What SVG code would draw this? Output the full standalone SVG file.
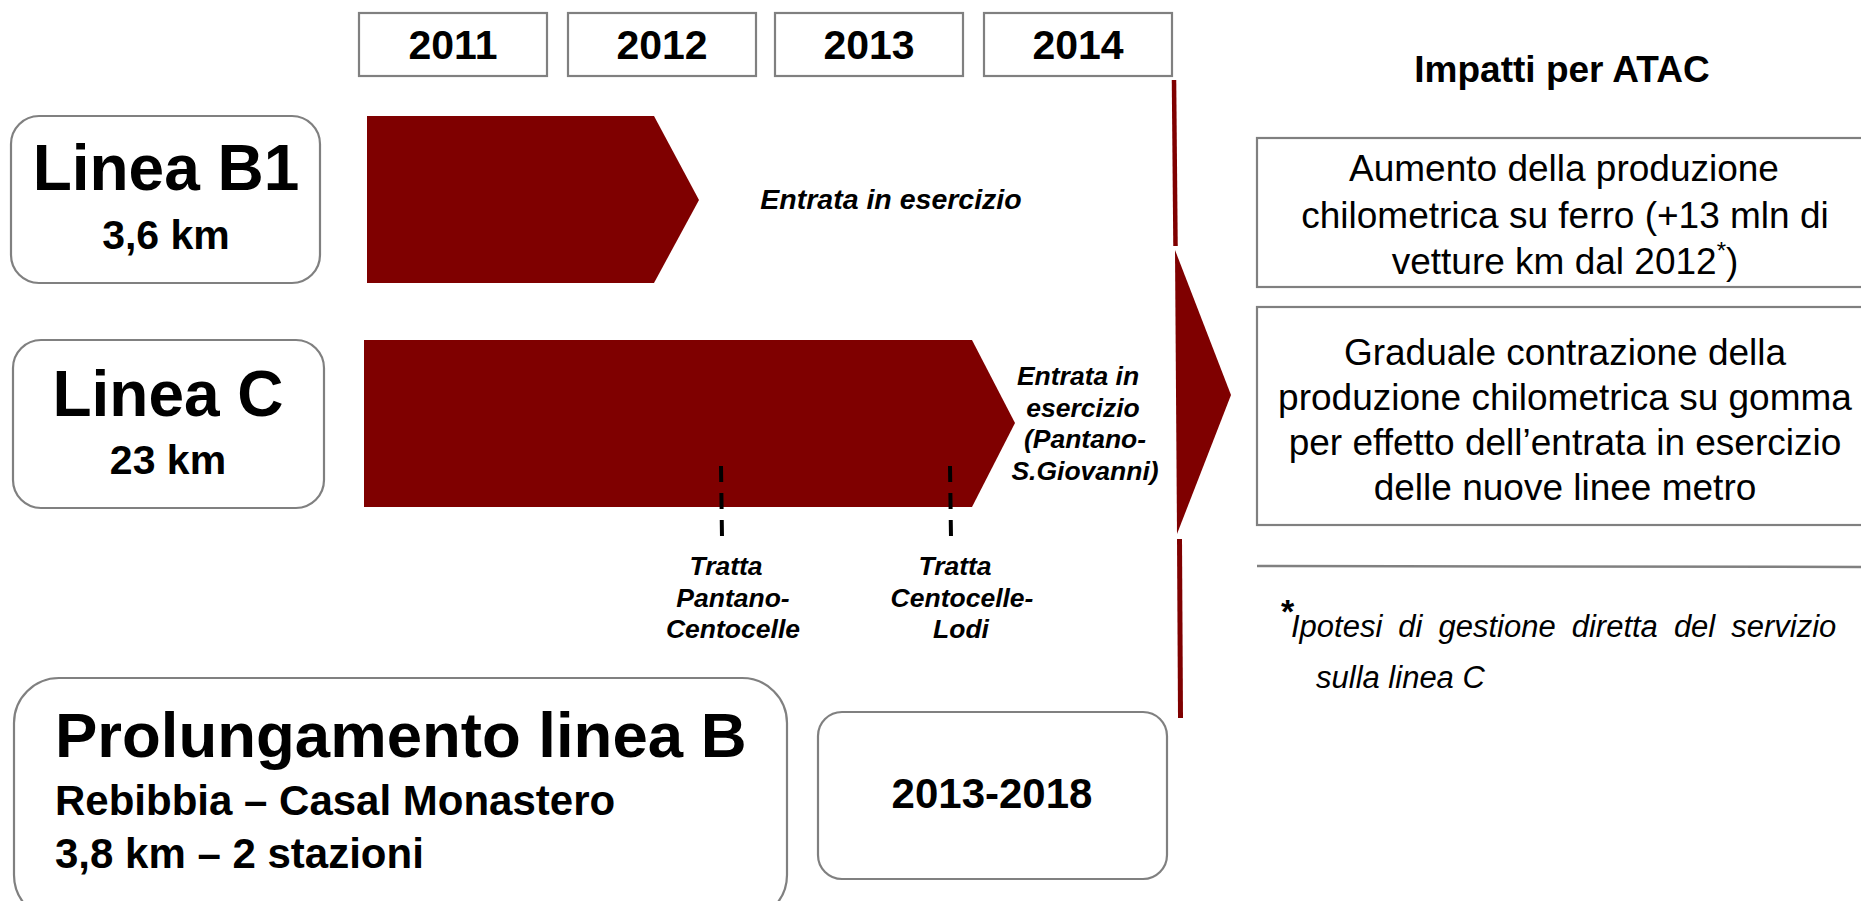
<svg xmlns="http://www.w3.org/2000/svg" width="1861" height="901" viewBox="0 0 1861 901">
<style>
text{font-family:"Liberation Sans",Arial,sans-serif;fill:#000}
.b{font-weight:bold}
.i{font-style:italic}
.c{text-anchor:middle}
.box{fill:#fff;stroke:#808080;stroke-width:2.2}
.red{fill:#7F0000}
.yr{font-size:41px;font-weight:bold;text-anchor:middle}
.lbl{font-size:26.5px;font-weight:bold;font-style:italic;text-anchor:middle}
.imp{font-size:37px;text-anchor:middle}
.tick{stroke:#000;stroke-width:4;stroke-dasharray:16 11;fill:none}
</style>
<rect width="1861" height="901" fill="#fff"/>

<g id="year-2011"><rect class="box" x="359" y="13" width="188" height="63"/><text class="yr" x="453" y="59">2011</text></g>
<g id="year-2012"><rect class="box" x="568" y="13" width="188" height="63"/><text class="yr" x="662" y="59">2012</text></g>
<g id="year-2013"><rect class="box" x="775" y="13" width="188" height="63"/><text class="yr" x="869" y="59">2013</text></g>
<g id="year-2014"><rect class="box" x="984" y="13" width="188" height="63"/><text class="yr" x="1078" y="59">2014</text></g>

<g id="linea-b1">
<rect class="box" x="11" y="116" width="309" height="167" rx="28"/>
<text class="b c" x="166" y="190" font-size="64">Linea B1</text>
<text class="b c" x="166" y="249" font-size="41">3,6 km</text>
</g>
<g id="arrow-b1">
<polygon class="red" points="367,116 654,116 699,200 654,283 367,283"/>
<text class="lbl" x="891" y="209" style="font-size:28.5px">Entrata in esercizio</text>
</g>

<g id="linea-c">
<rect class="box" x="13" y="340" width="311" height="168" rx="28"/>
<text class="b c" x="168" y="416" font-size="64">Linea C</text>
<text class="b c" x="168" y="474" font-size="41">23 km</text>
</g>
<g id="arrow-c">
<polygon class="red" points="364,340 972,340 1015,423 972,507 364,507"/>
<text class="lbl" x="1078" y="385">Entrata in</text>
<text class="lbl" x="1083" y="417">esercizio</text>
<text class="lbl" x="1085" y="448">(Pantano-</text>
<text class="lbl" x="1085" y="480">S.Giovanni)</text>
</g>

<g id="connectors">
<line class="tick" x1="721" y1="466" x2="722" y2="538"/>
<line class="tick" x1="950" y1="466" x2="951" y2="538"/>
<line x1="1174" y1="80" x2="1175.5" y2="246" stroke="#7F0000" stroke-width="4.5"/>
<polygon class="red" points="1175,250 1231,395 1177,534"/>
<line x1="1179.5" y1="539" x2="1180.5" y2="718" stroke="#7F0000" stroke-width="5"/>
</g>

<g id="tratta-1">
<text class="lbl" x="726" y="575">Tratta</text>
<text class="lbl" x="733" y="607">Pantano-</text>
<text class="lbl" x="733" y="638">Centocelle</text>
</g>
<g id="tratta-2">
<text class="lbl" x="955" y="575">Tratta</text>
<text class="lbl" x="962" y="607">Centocelle-</text>
<text class="lbl" x="961" y="638">Lodi</text>
</g>

<g id="prolungamento">
<rect class="box" x="14" y="678" width="773" height="242" rx="45"/>
<text class="b" x="55" y="757" font-size="63.5">Prolungamento linea B</text>
<text class="b" x="55" y="815" font-size="42">Rebibbia – Casal Monastero</text>
<text class="b" x="55" y="868" font-size="42">3,8 km – 2 stazioni</text>
</g>
<g id="periodo">
<rect class="box" x="818" y="712" width="349" height="167" rx="24"/>
<text class="b c" x="992" y="808" font-size="42">2013-2018</text>
</g>

<g id="impatti-title">
<text class="b c" x="1562" y="82" font-size="37">Impatti per ATAC</text>
</g>
<g id="impatto-1">
<rect class="box" x="1257" y="138" width="620" height="149"/>
<text class="imp" x="1564" y="181">Aumento della produzione</text>
<text class="imp" x="1565" y="228">chilometrica su ferro (+13 mln di</text>
<text class="imp" x="1565" y="274">vetture km dal 2012<tspan font-size="24" dy="-15">*</tspan><tspan dy="15">)</tspan></text>
</g>
<g id="impatto-2">
<rect class="box" x="1257" y="307" width="620" height="218"/>
<text class="imp" x="1565" y="365">Graduale contrazione della</text>
<text class="imp" x="1565" y="410">produzione chilometrica su gomma</text>
<text class="imp" x="1565" y="455">per effetto dell’entrata in esercizio</text>
<text class="imp" x="1565" y="500">delle nuove linee metro</text>
</g>
<g id="nota">
<line x1="1257" y1="566" x2="1861" y2="567" stroke="#808080" stroke-width="2.5"/>
<text x="1281" y="623" font-size="34" font-weight="bold">*</text>
<text class="i" x="1291" y="637" font-size="31" word-spacing="7.4">Ipotesi di gestione diretta del servizio</text>
<text class="i" x="1316" y="688" font-size="31">sulla linea C</text>
</g>
</svg>
